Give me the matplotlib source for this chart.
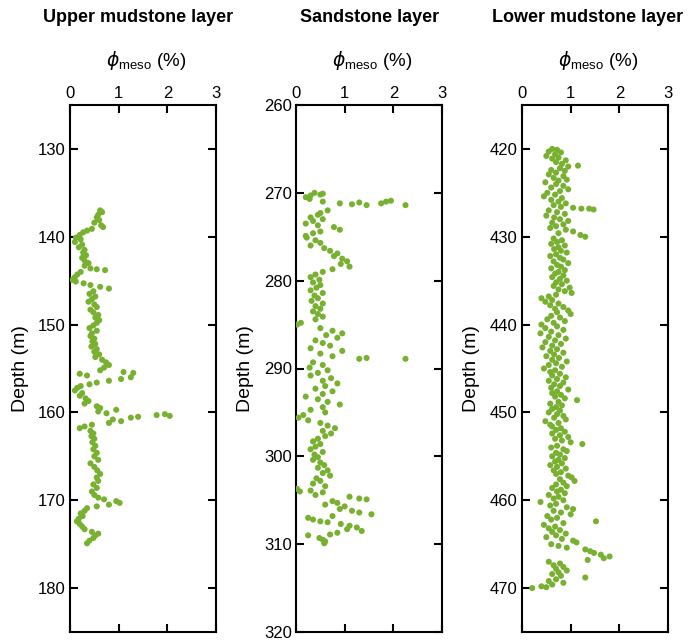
import matplotlib
matplotlib.use("Agg")
import matplotlib.pyplot as plt

plt.rcParams['font.family'] = ['Liberation Sans', 'DejaVu Sans']
plt.rcParams['mathtext.fontset'] = 'custom'
plt.rcParams['mathtext.rm'] = 'Liberation Sans'
plt.rcParams['mathtext.it'] = 'DejaVu Sans:italic'

titles = ["Upper mudstone layer", "Sandstone layer", "Lower mudstone layer"]
xlabel = r"$\phi_{\mathrm{meso}}$ (%)"
ylabel = "Depth (m)"
x_ticks = [0, 1, 2, 3]
upper_yticks = [130, 140, 150, 160, 170, 180]
sand_yticks = [260, 270, 280, 290, 300, 310, 320]
lower_yticks = [420, 430, 440, 450, 460, 470]
upper_ylim = (125, 185)
sand_ylim = (260, 320)
lower_ylim = (415, 475)

upper_depth = [137.0, 137.2, 137.5, 137.8, 138.1, 138.4, 138.7, 138.9, 139.1, 139.3,
               139.5, 139.8, 140.1, 140.3, 140.6, 140.9, 141.2, 141.5, 141.8, 142.1,
               142.4, 142.7, 143.0, 143.3, 143.6, 143.7, 143.8, 144.0, 144.3, 144.6,
               144.9, 145.1, 145.3, 145.5, 145.7, 145.9, 146.2, 146.5, 146.8, 147.1,
               147.4, 147.7, 148.0, 148.3, 148.6, 148.9, 149.2, 149.5, 149.8, 150.1,
               150.4, 150.7, 151.0, 151.3, 151.6, 151.9, 152.2, 152.5, 152.8, 153.1,
               153.4, 153.7, 154.0, 154.3, 154.6, 154.9, 155.2, 155.4, 155.5, 155.6,
               155.8, 156.0, 156.2, 156.4, 156.6, 156.8, 157.0, 157.2, 157.5, 157.8,
               158.1, 158.4, 158.7, 159.0, 159.3, 159.5, 159.7, 159.9, 160.1, 160.2,
               160.3, 160.4, 160.5, 160.6, 160.8, 161.0, 161.2, 161.4, 161.6, 161.8,
               162.1, 162.4, 162.7, 163.0, 163.4, 163.8, 164.2, 164.6, 165.0, 165.4,
               165.8, 166.2, 166.6, 167.0, 167.4, 167.8, 168.2, 168.6, 169.0, 169.4,
               169.7, 169.9, 170.1, 170.3, 170.5, 170.7, 170.9, 171.2, 171.5, 171.8,
               172.1, 172.4, 172.7, 173.0, 173.3, 173.6, 173.8, 174.0, 174.3, 174.6,
               174.9]
upper_phi = [0.62, 0.66, 0.58, 0.55, 0.60, 0.50, 0.64, 0.68, 0.45, 0.35,
             0.27, 0.20, 0.12, 0.22, 0.10, 0.25, 0.18, 0.30, 0.27, 0.33,
             0.25, 0.30, 0.38, 0.30, 0.42, 0.55, 0.72, 0.22, 0.15, 0.10,
             0.05, 0.12, 0.28, 0.42, 0.62, 0.80, 0.48, 0.40, 0.52, 0.45,
             0.38, 0.50, 0.55, 0.42, 0.48, 0.58, 0.52, 0.60, 0.55, 0.48,
             0.40, 0.55, 0.45, 0.42, 0.50, 0.46, 0.52, 0.44, 0.55, 0.50,
             0.60, 0.52, 0.66, 0.74, 0.80, 0.70, 0.62, 1.10, 1.30, 0.20,
             0.35, 1.25, 1.05, 0.80, 0.55, 0.40, 0.22, 0.15, 0.10, 0.25,
             0.20, 0.32, 0.38, 0.30, 0.55, 0.62, 0.95, 0.58, 0.75, 1.95,
             1.78, 2.05, 1.40, 1.25, 0.88, 1.05, 0.80, 0.45, 0.30, 0.20,
             0.42, 0.48, 0.44, 0.50, 0.46, 0.52, 0.48, 0.55, 0.50, 0.58,
             0.42, 0.50, 0.56, 0.62, 0.55, 0.58, 0.48, 0.55, 0.45, 0.50,
             0.58, 0.70, 0.95, 1.02, 0.80, 0.55, 0.35, 0.30, 0.22, 0.26,
             0.18, 0.14, 0.20, 0.25, 0.30, 0.45, 0.58, 0.52, 0.48, 0.40,
             0.35]

sand_depth = [270.0, 270.1, 270.2, 270.3, 270.5, 270.7, 271.0, 271.2, 271.3, 271.1,
              271.4, 271.2, 271.0, 270.9, 271.4, 272.0, 272.3, 272.5, 272.8, 273.0,
              273.2, 273.5, 273.7, 273.9, 274.2, 274.4, 274.6, 274.9, 275.1, 275.4,
              275.7, 276.0, 276.3, 276.6, 276.9, 277.2, 277.5, 277.8, 278.1, 278.4,
              278.7, 279.0, 279.3, 279.6, 279.9, 280.2, 280.5, 280.8, 281.1, 281.4,
              281.7, 282.0, 282.3, 282.6, 282.9, 283.2, 283.5, 283.8, 284.1, 284.4,
              284.8, 285.0, 285.4, 285.7, 286.0, 286.2, 286.5, 286.8, 287.1, 287.4,
              287.7, 288.0, 288.3, 288.6, 288.9, 288.8, 288.9, 289.3, 289.6, 289.9,
              290.2, 290.5, 290.8, 291.1, 291.4, 291.7, 292.0, 292.3, 292.6, 292.9,
              293.2, 293.5, 293.8, 294.1, 294.4, 294.7, 295.0, 295.3, 295.6, 295.9,
              296.2, 296.5, 296.8, 297.1, 297.4, 297.7, 298.0, 298.3, 298.6, 298.9,
              299.2, 299.5, 299.8, 300.1, 300.4, 300.7, 301.0, 301.3, 301.6, 301.9,
              302.2, 302.5, 302.8, 303.1, 303.4, 303.7, 304.0, 303.9, 304.1, 304.4,
              304.6, 304.8, 304.9, 305.1, 305.3, 305.5, 305.7, 306.0, 306.2, 306.4,
              306.6, 306.8, 307.0, 307.2, 307.4, 307.5, 307.7, 307.9, 308.1, 308.3,
              308.5, 308.7, 308.9, 309.0, 309.3, 309.5, 309.7, 309.9]
sand_phi = [0.38, 0.55, 0.50, 0.30, 0.20, 0.28, 0.55, 0.90, 1.15, 1.30,
            1.45, 1.75, 1.85, 1.95, 2.25, 0.65, 0.50, 0.45, 0.30, 0.55,
            0.35, 0.20, 0.45, 0.78, 0.90, 0.50, 0.35, 0.20, 0.22, 0.40,
            0.50, 0.30, 0.58, 0.70, 0.85, 0.78, 0.95, 1.05, 0.92, 1.10,
            0.75, 0.55, 0.40, 0.30, 0.48, 0.35, 0.50, 0.42, 0.30, 0.55,
            0.38, 0.45, 0.32, 0.55, 0.40, 0.50, 0.35, 0.45, 0.55, 0.40,
            0.10, 0.02, 0.50, 0.75, 0.95, 0.62, 0.85, 0.40, 0.55, 0.70,
            0.30, 0.95, 0.50, 0.75, 1.30, 1.45, 2.25, 0.35, 0.55, 0.28,
            0.65, 0.45, 0.30, 0.72, 0.55, 0.85, 0.60, 0.40, 0.75, 0.55,
            0.20, 0.45, 0.65, 0.90, 0.55, 0.30, 0.60, 0.15, 0.05, 0.25,
            0.50, 0.65, 0.80, 0.55, 0.72, 0.60, 0.45, 0.35, 0.50, 0.40,
            0.30, 0.55, 0.38, 0.45, 0.35, 0.50, 0.58, 0.45, 0.65, 0.55,
            0.70, 0.42, 0.50, 0.35, 0.60, 0.02, 0.08, 0.30, 0.55, 0.40,
            1.10, 1.30, 1.45, 0.75, 0.85, 0.60, 1.00, 0.90, 1.15, 1.30,
            1.55, 0.75, 0.25, 0.35, 0.50, 0.65, 0.92, 1.10, 1.25, 1.05,
            1.35, 0.85, 0.70, 0.25, 0.48, 0.55, 0.60, 0.58]

lower_depth = [420.0, 420.1, 420.3, 420.4, 420.6, 420.8, 421.0, 421.1, 421.3, 421.5,
               421.7, 421.9, 422.0, 422.2, 422.4, 422.5, 422.7, 422.9, 423.1, 423.3,
               423.5, 423.6, 423.8, 424.0, 424.2, 424.4, 424.6, 424.8, 425.0, 425.2,
               425.4, 425.6, 425.8, 426.0, 426.2, 426.4, 426.6, 426.7, 426.8, 426.8,
               426.9, 427.0, 427.2, 427.4, 427.6, 427.8, 428.0, 428.2, 428.4, 428.6,
               428.8, 429.0, 429.2, 429.4, 429.6, 429.8, 430.0, 430.2, 430.4, 430.6,
               430.8, 431.0, 431.2, 431.4, 431.6, 431.8, 432.0, 432.2, 432.4, 432.6,
               432.8, 433.0, 433.2, 433.4, 433.6, 433.8, 434.0, 434.2, 434.4, 434.6,
               434.8, 435.0, 435.2, 435.4, 435.6, 435.8, 436.0, 436.2, 436.4, 436.6,
               436.8, 437.0, 437.2, 437.4, 437.6, 437.8, 438.0, 438.2, 438.4, 438.6,
               438.8, 439.0, 439.2, 439.4, 439.6, 439.8, 440.0, 440.2, 440.4, 440.6,
               440.8, 441.0, 441.2, 441.4, 441.6, 441.8, 442.0, 442.2, 442.4, 442.6,
               442.8, 443.0, 443.2, 443.4, 443.6, 443.8, 444.0, 444.2, 444.4, 444.6,
               444.8, 445.0, 445.2, 445.4, 445.6, 445.8, 446.0, 446.2, 446.4, 446.6,
               446.8, 447.0, 447.2, 447.4, 447.6, 447.8, 448.0, 448.2, 448.4, 448.6,
               448.8, 449.0, 449.2, 449.4, 449.6, 449.8, 450.0, 450.2, 450.4, 450.6,
               450.8, 451.0, 451.2, 451.4, 451.6, 451.8, 452.0, 452.2, 452.4, 452.6,
               452.8, 453.0, 453.2, 453.4, 453.6, 453.8, 454.0, 454.2, 454.4, 454.6,
               454.8, 455.0, 455.2, 455.4, 455.6, 455.8, 456.0, 456.2, 456.4, 456.6,
               456.8, 457.0, 457.2, 457.4, 457.6, 457.8, 458.0, 458.2, 458.4, 458.6,
               458.8, 459.0, 459.2, 459.4, 459.6, 459.8, 460.0, 460.2, 460.4, 460.6,
               460.8, 461.0, 461.2, 461.4, 461.6, 461.8, 462.0, 462.2, 462.4, 462.6,
               462.8, 463.0, 463.2, 463.4, 463.6, 463.8, 464.0, 464.2, 464.4, 464.6,
               464.8, 465.0, 465.2, 465.4, 465.6, 465.8, 466.0, 466.2, 466.4, 466.6,
               466.8, 467.0, 467.2, 467.4, 467.6, 467.8, 468.0, 468.2, 468.4, 468.6,
               468.8, 469.0, 469.2, 469.4, 469.6, 469.8, 469.9, 470.0]
lower_phi = [0.62, 0.72, 0.55, 0.80, 0.68, 0.50, 0.75, 0.62, 0.90, 0.70,
             0.82, 1.15, 0.95, 0.78, 0.60, 0.88, 0.70, 0.55, 0.85, 0.65,
             0.92, 0.75, 0.48, 0.70, 0.85, 0.60, 0.95, 0.78, 0.52, 0.68,
             0.45, 0.82, 0.60, 0.75, 0.90, 0.65, 0.80, 1.05, 1.22, 1.38,
             1.47, 0.55, 0.72, 0.88, 0.50, 0.66, 0.78, 0.95, 0.62, 0.85,
             0.70, 0.58, 0.90, 1.05, 0.75, 1.20, 1.30, 0.65, 0.82, 0.72,
             0.60, 0.88, 0.75, 0.66, 0.80, 0.92, 0.70, 0.58, 0.78, 0.85,
             0.65, 0.95, 0.72, 0.80, 0.60, 0.88, 0.75, 0.68, 0.85, 0.62,
             0.78, 0.92, 0.70, 0.82, 0.65, 0.98, 0.75, 0.88, 1.02, 0.70,
             0.55, 0.40, 0.62, 0.48, 0.75, 0.58, 0.85, 0.68, 0.95, 0.72,
             1.00, 0.60, 0.78, 0.52, 0.88, 0.65, 0.40, 0.72, 0.48, 0.85,
             0.60, 0.38, 0.75, 0.55, 0.90, 0.68, 0.48, 0.80, 0.62, 0.42,
             0.72, 0.58, 0.85, 0.66, 0.50, 0.76, 0.62, 0.92, 0.70, 0.55,
             0.82, 0.45, 0.68, 0.58, 0.78, 0.62, 0.90, 0.72, 0.55, 0.85,
             0.66, 0.78, 0.60, 0.95, 0.72, 0.62, 0.80, 0.68, 0.88, 1.13,
             0.75, 0.58, 0.82, 0.70, 0.62, 0.78, 0.55, 0.72, 0.85, 0.66,
             0.90, 0.48, 0.75, 0.58, 0.62, 0.80, 0.70, 0.88, 0.62, 0.78,
             0.95, 0.68, 0.82, 1.00, 1.24, 0.72, 0.60, 0.85, 0.92, 0.70,
             0.78, 0.62, 0.88, 0.75, 0.68, 0.82, 0.58, 0.72, 0.90, 0.65,
             0.80, 0.70, 0.95, 1.02, 0.78, 1.08, 0.85, 0.70, 0.92, 0.62,
             0.80, 0.72, 0.88, 0.55, 0.75, 0.65, 0.85, 0.38, 0.70, 0.58,
             0.92, 1.05, 0.65, 0.80, 1.00, 0.52, 0.72, 0.60, 1.52, 0.85,
             0.45, 0.68, 0.55, 0.78, 0.62, 0.90, 0.70, 0.50, 0.82, 1.05,
             1.12, 0.60, 0.75, 0.92, 1.30, 1.40, 1.48, 1.62, 1.80, 1.68,
             1.35, 0.55, 0.78, 0.65, 0.85, 0.70, 0.92, 0.75, 0.62, 0.80,
             1.30, 0.70, 0.55, 0.85, 0.62, 0.40, 0.50, 0.21]

color = '#78b030'
W, H = 690, 640
fig = plt.figure(figsize=(W / 100, H / 100), dpi=100)

panels = [
    (70, upper_depth, upper_phi, upper_ylim, upper_yticks, 138),
    (296, sand_depth, sand_phi, sand_ylim, sand_yticks, 370),
    (522, lower_depth, lower_phi, lower_ylim, lower_yticks, 588),
]
top_px, bot_px, width_px = 105, 632, 146
h_px = bot_px - top_px
for (left_px, dep, phi, ylim, yt, tx), title in zip(panels, titles):
    ax = fig.add_axes([left_px / W, 1 - bot_px / H, width_px / W, h_px / H])
    ax.scatter(phi, dep, s=19, color=color, edgecolors='none', zorder=3)
    ax.set_xlim(0, 3)
    ax.set_ylim(ylim[1], ylim[0])
    ax.set_xticks(x_ticks)
    ax.set_yticks(yt)
    ax.xaxis.set_label_position('top')
    ax.xaxis.tick_top()
    ax.tick_params(axis='both', which='both', direction='in', length=6, width=1.5,
                   top=True, bottom=True, left=True, right=True,
                   labeltop=True, labelbottom=False, labelsize=12, pad=3)
    for sp in ax.spines.values():
        sp.set_linewidth(1.5)
    ax.set_xlabel(xlabel, fontsize=13.5)
    ax.xaxis.label.set_va('center')
    ax.xaxis.set_label_coords(0.52, 1 + 45 / h_px)
    ax.set_ylabel(ylabel, fontsize=14)
    ax.yaxis.label.set_va('center')
    ax.yaxis.set_label_coords(-50 / width_px, 0.5)
    fig.text(tx / W, 1 - 17 / H, title, ha='center', va='center',
             fontsize=13, fontweight='bold')

fig.savefig('out.png', dpi=100)
